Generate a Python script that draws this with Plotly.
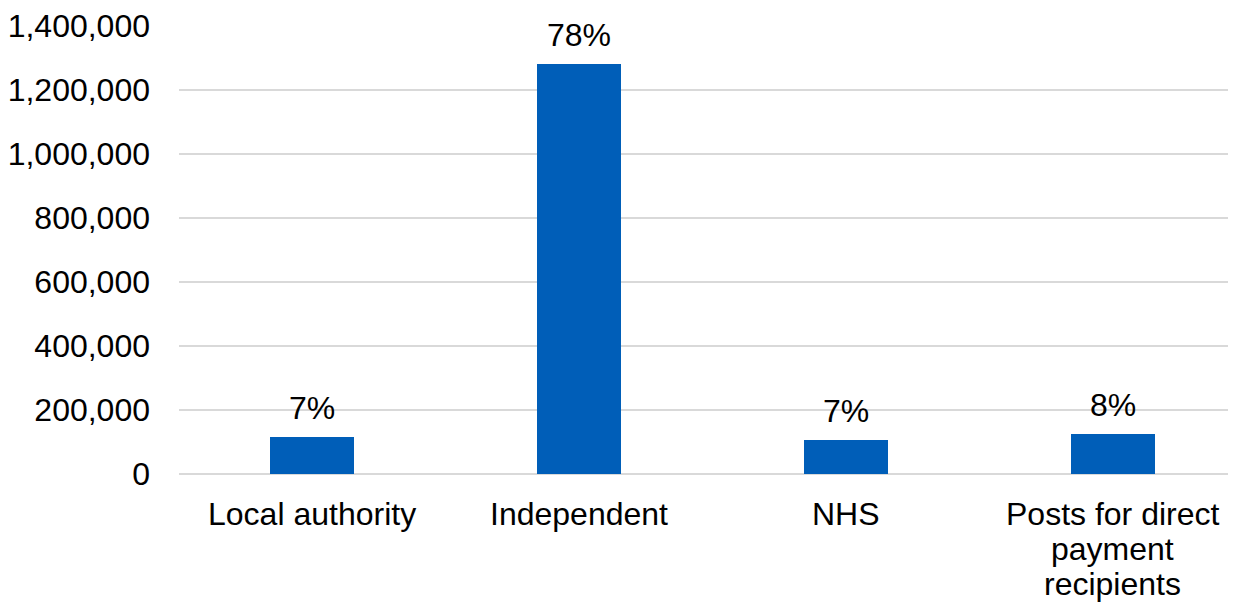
import plotly.graph_objects as go

category_lines = [["Local authority"], ["Independent"], ["NHS"],
                  ["Posts for direct", "payment", "recipients"]]
categories = [" ".join(l) for l in category_lines]
posts = [116000, 1280000, 107000, 124500]
pct_labels = ["7%", "78%", "7%", "8%"]
y_ticks = [0, 200000, 400000, 600000, 800000, 1000000, 1200000, 1400000]

FONT = "Liberation Sans, Arial, sans-serif"
FS = 32
BLUE = "#005EB8"

fig = go.Figure()
fig.add_trace(go.Bar(
    x=categories,
    y=posts,
    width=0.315,
    marker=dict(color=BLUE, line=dict(width=0)),
    hoverinfo="skip",
))

for c, v, t in zip(categories, posts, pct_labels):
    fig.add_annotation(x=c, y=v, text=t, showarrow=False, yanchor="bottom",
                       yshift=9, font=dict(family=FONT, size=FS, color="#000000"))

for c, lines in zip(categories, category_lines):
    for k, line in enumerate(lines):
        fig.add_annotation(x=c, xref="x", y=0, yref="paper", text=line,
                           showarrow=False, yanchor="middle",
                           yshift=-(40 + 35 * k),
                           font=dict(family=FONT, size=FS, color="#000000"))

fig.update_layout(
    width=1228, height=594,
    margin=dict(l=169, r=0, t=16, b=128),
    paper_bgcolor="white", plot_bgcolor="white",
    showlegend=False,
    font=dict(family=FONT, size=FS, color="#000000"),
    bargap=0,
)
fig.update_xaxes(
    type="category",
    range=[-0.5, 3.461],
    showticklabels=False,
    showgrid=False, showline=False, zeroline=False, ticks="",
)
fig.update_yaxes(
    range=[0, 1402000],
    tickmode="array", tickvals=y_ticks,
    ticktext=[f"{v:,}" for v in y_ticks],
    showgrid=True, gridcolor="#D9D9D9", gridwidth=2,
    zeroline=True, zerolinecolor="#D9D9D9", zerolinewidth=2,
    showline=False, ticks="", ticklabelstandoff=28,
    ticklabeloverflow="allow",
    tickfont=dict(family=FONT, size=FS, color="#000000"),
)

fig.write_html("out.html")
